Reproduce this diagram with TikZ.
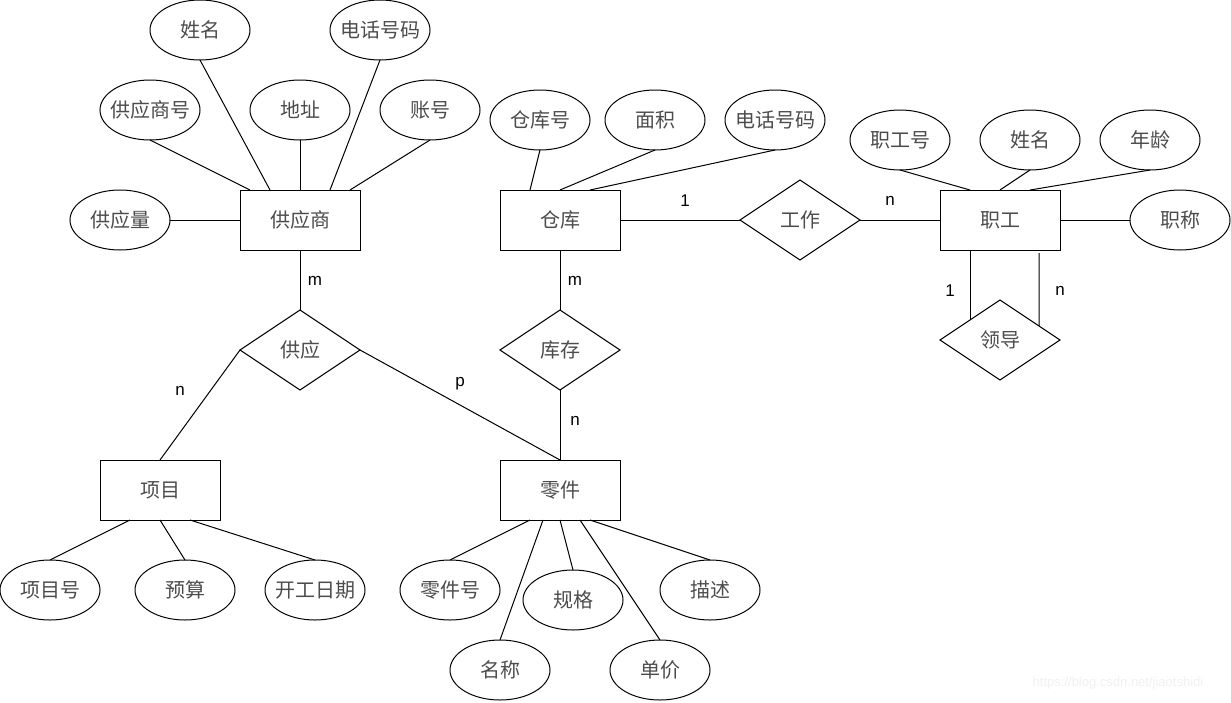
\documentclass[tikz,border=0pt]{standalone}
\usepackage{fontspec}
\newfontfamily\cjkfont{Noto Sans CJK SC}
\newfontfamily\latinfont{Liberation Sans}
\usepackage{tikz}
\usetikzlibrary{positioning, shapes.geometric, calc}

\begin{document}
\begin{tikzpicture}[
    x=1pt, y=-1pt,
    line width=1pt,
    node distance=60pt,
    entity/.style={
        draw, rectangle, minimum width=120pt, minimum height=60pt,
        inner sep=0pt, outer sep=0pt, text=black!70, font=\cjkfont\fontsize{20}{20}\selectfont
    },
    attr/.style={
        draw, ellipse, minimum width=100pt, minimum height=60pt,
        inner xsep=-10pt, inner ysep=0pt, outer sep=0pt,
        text=black!70, font=\cjkfont\fontsize{20}{20}\selectfont
    },
    rel/.style={
        draw, diamond, aspect=1.5, minimum width=120pt, minimum height=80pt,
        inner sep=0pt, outer sep=0pt, text=black!70, font=\cjkfont\fontsize{20}{20}\selectfont
    },
    card/.style={
        inner sep=0pt, font=\latinfont\fontsize{17}{17}\selectfont
    }
]

\useasboundingbox (0,0) rectangle (1231,702);

\node [entity] (supplier) at (300,220) {供应商};

\node [entity, right=140pt of supplier] (warehouse) {仓库};

\node [rel, right=120pt of warehouse] (work) {工作};

\node [entity, right=80pt of work] (staff) {职工};

\node [rel, below=50pt of staff] (lead) {领导};

\node [rel, below=60pt of supplier] (supply) {供应};

\node [rel, below=60pt of warehouse] (stock) {库存};

\node [entity, below=70pt of stock] (part) {零件};

\node [entity] (project) at (160,490) {项目};

\node [attr] (sname)  at (200,30)  {姓名};
\node [attr] (sphone) at (380,30)  {电话号码};
\node [attr] (sno)    at (150,110) {供应商号};
\node [attr] (saddr)  at (300,110) {地址};
\node [attr] (sacct)  at (430,110) {账号};
\node [attr] (sqty)   at (120,220) {供应量};

\node [attr] (wno)    at (540,120) {仓库号};
\node [attr] (warea)  at (655,120) {面积};
\node [attr] (wphone) at (775,120) {电话号码};

\node [attr] (eno)    at (900,140)  {职工号};
\node [attr] (ename)  at (1030,140) {姓名};
\node [attr] (eage)   at (1150,140) {年龄};
\node [attr] (etitle) at (1180,220) {职称};

\node [attr] (jno)    at (50,590)  {项目号};
\node [attr] (jbudget) at (185,590) {预算};
\node [attr] (jdate)  at (315,590) {开工日期};

\node [attr] (pno)    at (450,590) {零件号};
\node [attr] (pname)  at (500,670) {名称};
\node [attr] (pspec)  at (573,600) {规格};
\node [attr] (pprice) at (660,670) {单价};
\node [attr] (pdesc)  at (710,590) {描述};

\node [card] (c1) at (685,201)  {1};
\node [card] (c2) at (890,201)  {n};
\node [card] (c3) at (315,281)  {m};
\node [card] (c4) at (575,281)  {m};
\node [card] (c5) at (180,391)  {n};
\node [card] (c6) at (460,384)  {p};
\node [card] (c7) at (575,421)  {n};
\node [card] (c8) at (950,291)  {1};
\node [card] (c9) at (1060,291) {n};

\node [inner sep=0pt, text=black!6, font=\latinfont\fontsize{13}{13}\selectfont]
    (mark) at (1118,683) {https://blog.csdn.net/jiaotshidi};

\draw (sno.south) -- ([xshift=10pt]supplier.north west);
\draw (sname.south) -- ([xshift=30pt]supplier.north west);
\draw (saddr.south) -- (supplier.north);
\draw (sphone.south) -- ([xshift=90pt]supplier.north west);
\draw (sacct.south) -- ([xshift=110pt]supplier.north west);
\draw (sqty.east) -- (supplier.west);

\draw (wno.south) -- ([xshift=30pt]warehouse.north west);
\draw (warea.south) -- (warehouse.north);
\draw (wphone.south) -- ([xshift=90pt]warehouse.north west);

\draw (eno.south) -- ([xshift=30pt]staff.north west);
\draw (ename.south) -- (staff.north);
\draw (eage.south) -- ([xshift=90pt]staff.north west);
\draw (etitle.west) -- (staff.east);

\draw (jno.north) -- ([xshift=30pt]project.south west);
\draw (jbudget.north) -- (project.south);
\draw (jdate.north) -- ([xshift=90pt]project.south west);

\draw (pno.north) -- ([xshift=30pt]part.south west);
\draw (pname.north) -- ([xshift=43pt]part.south west);
\draw (pspec.north) -- (part.south);
\draw (pprice.north) -- ([xshift=80pt]part.south west);
\draw (pdesc.north) -- ([xshift=90pt]part.south west);

\draw (warehouse.east) -- (work.west);
\draw (work.east) -- (staff.west);

\draw (supplier.south) -- (supply.north);
\draw (supply.west) -- (project.north);
\draw (supply.east) -- (part.north);

\draw (warehouse.south) -- (stock.north);
\draw (stock.south) -- (part.north);

\draw ([xshift=30pt]staff.south west) -- (lead.north west);
\draw ([xshift=-21pt,yshift=-3pt]staff.south east) -- ($(lead.north)!0.65!(lead.east)$);

\end{tikzpicture}
\end{document}
